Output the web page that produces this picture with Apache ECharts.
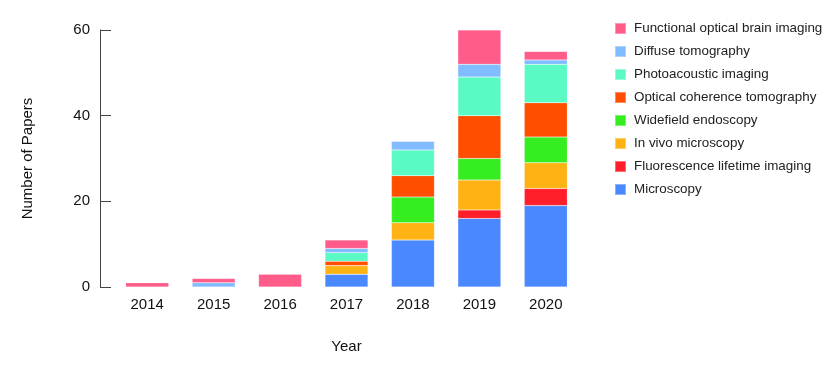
<!DOCTYPE html>
<html><head><meta charset="utf-8">
<script src="https://cdn.jsdelivr.net/npm/echarts@6/dist/echarts.min.js"></script>
<style>html,body{margin:0;padding:0;background:#fff}#c{width:830px;height:370px}</style>
</head><body><div id="c"></div>
<script>
const years = ['2014','2015','2016','2017','2018','2019','2020'];
const microscopy = [0,0,0,3,11,16,19];
const flim = [0,0,0,0,0,2,4];
const inVivo = [0,0,0,2,4,7,6];
const widefield = [0,0,0,0,6,5,6];
const oct = [0,0,0,1,5,10,8];
const photoacoustic = [0,0,0,2,6,9,9];
const diffuse = [0,1,0,1,2,3,1];
const fobi = [1,1,3,2,0,8,2];
const yTicks = [0,20,40,60];

const seriesDefs = [
  ['Microscopy', microscopy, '#4a88ff'],
  ['Fluorescence lifetime imaging', flim, '#ff1e2a'],
  ['In vivo microscopy', inVivo, '#ffb214'],
  ['Widefield endoscopy', widefield, '#36ee1f'],
  ['Optical coherence tomography', oct, '#ff4e00'],
  ['Photoacoustic imaging', photoacoustic, '#5bfac5'],
  ['Diffuse tomography', diffuse, '#80bcff'],
  ['Functional optical brain imaging', fobi, '#ff5c8a']
];
const font = 'Liberation Sans, Arial, sans-serif';
const chart = echarts.init(document.getElementById('c'), null, {renderer:'canvas'});
chart.setOption({
  backgroundColor:'#fff',
  animation:false,
  textStyle:{fontFamily:font},
  grid:{left:114, right:251, top:30, bottom:83},
  legend:{
    orient:'vertical', left:609, top:17, itemWidth:11, itemHeight:11, itemGap:10,
    icon:'rect',
    textStyle:{fontSize:13.4, lineHeight:13, color:'#222', fontFamily:font, padding:[0,0,0,3]},
    data: seriesDefs.slice().reverse().map(d=>d[0])
  },
  xAxis:{
    type:'category', data:years, name:'Year', nameLocation:'middle', nameGap:52,
    nameTextStyle:{fontSize:15, color:'#111', fontFamily:font},
    axisLine:{show:false}, axisTick:{show:false},
    axisLabel:{fontSize:15, color:'#111', margin:10, fontFamily:font}
  },
  yAxis:{
    type:'value', min:0, max:60, interval:20, offset:14,
    name:'Number of Papers', nameLocation:'middle', nameGap:65,
    nameTextStyle:{fontSize:15, color:'#111', fontFamily:font},
    axisLine:{show:true, lineStyle:{color:'#444', width:1}},
    axisTick:{show:true, inside:true, length:11, lineStyle:{color:'#444'}},
    splitLine:{show:false},
    axisLabel:{fontSize:15, color:'#111', margin:10, fontFamily:font,
      formatter:v=>yTicks.includes(v)?String(v):''}
  },
  series: seriesDefs.map(d=>({
    name:d[0], type:'bar', stack:'total', data:d[1], barWidth:43,
    itemStyle:{color:d[2], borderColor:'rgba(255,255,255,0.35)', borderWidth:0.5}
  }))
});
</script></body></html>
